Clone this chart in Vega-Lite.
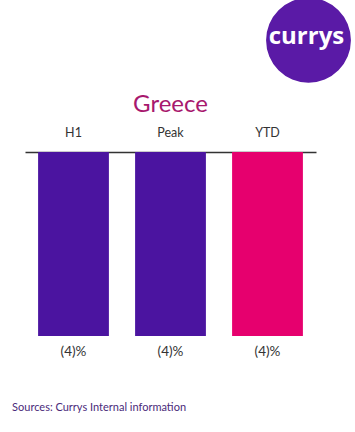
{
  "$schema": "https://vega.github.io/schema/vega-lite/v6.json",
  "autosize": "none",
  "width": 291,
  "height": 184,
  "padding": {"left": 25, "top": 152, "right": 39, "bottom": 96},
  "background": "#ffffff",
  "config": {"view": {"stroke": null}, "font": "Lato"},
  "data": {
    "values": [
      {"period": "H1", "value": -4, "label": "(4)%"},
      {"period": "Peak", "value": -4, "label": "(4)%"},
      {"period": "YTD", "value": -4, "label": "(4)%"}
    ]
  },
  "encoding": {
    "x": {
      "field": "period",
      "type": "nominal",
      "sort": ["H1", "Peak", "YTD"],
      "scale": {"paddingInner": 0.27, "paddingOuter": 0.135},
      "axis": {
        "orient": "top",
        "title": null,
        "ticks": false,
        "labelAngle": 0,
        "labelFontSize": 12.5,
        "labelColor": "#333333",
        "labelPadding": 13,
        "domainColor": "#333333",
        "domainWidth": 1.5
      }
    }
  },
  "layer": [
    {
      "mark": {"type": "bar"},
      "encoding": {
        "y": {"field": "value", "type": "quantitative", "scale": {"domain": [-4, 0], "nice": false}, "axis": null},
        "color": {
          "field": "period",
          "type": "nominal",
          "scale": {"domain": ["H1", "Peak", "YTD"], "range": ["#4b14a0", "#4b14a0", "#e6006e"]},
          "legend": null
        }
      }
    },
    {
      "mark": {"type": "text", "baseline": "middle", "dy": 16, "fontSize": 13.5, "color": "#333333"},
      "encoding": {
        "y": {"field": "value", "type": "quantitative"},
        "text": {"field": "label"}
      }
    },
    {
      "data": {"values": [{"country": "Greece"}]},
      "mark": {"type": "text", "align": "center", "baseline": "middle", "fontSize": 24, "color": "#a8186e"},
      "encoding": {
        "x": {"datum": "Peak", "type": "nominal"},
        "y": {"datum": 1.02, "type": "quantitative"},
        "text": {"field": "country"}
      }
    },
    {
      "data": {"values": [{"note": "Sources: Currys Internal information"}]},
      "mark": {"type": "text", "align": "left", "baseline": "middle", "dx": -26, "dy": 72, "fontSize": 11, "color": "#4a2a7a"},
      "encoding": {
        "x": {"datum": "H1", "type": "nominal", "bandPosition": 0},
        "y": {"datum": -4, "type": "quantitative"},
        "text": {"field": "note"}
      }
    },
    {
      "data": {"values": [{"brand": "currys"}]},
      "mark": {"type": "point", "filled": true, "opacity": 1, "size": 7200, "color": "#5a1aa6", "xOffset": 41},
      "encoding": {
        "x": {"datum": "YTD", "type": "nominal"},
        "y": {"datum": 2.43, "type": "quantitative"}
      }
    },
    {
      "data": {"values": [{"brand": "currys"}]},
      "mark": {"type": "text", "align": "center", "baseline": "middle", "fontSize": 24, "fontWeight": "bold", "font": "Open Sans", "color": "#ffffff", "dx": 39, "dy": 0},
      "encoding": {
        "x": {"datum": "YTD", "type": "nominal"},
        "y": {"datum": 2.5, "type": "quantitative"},
        "text": {"field": "brand"}
      }
    }
  ]
}
